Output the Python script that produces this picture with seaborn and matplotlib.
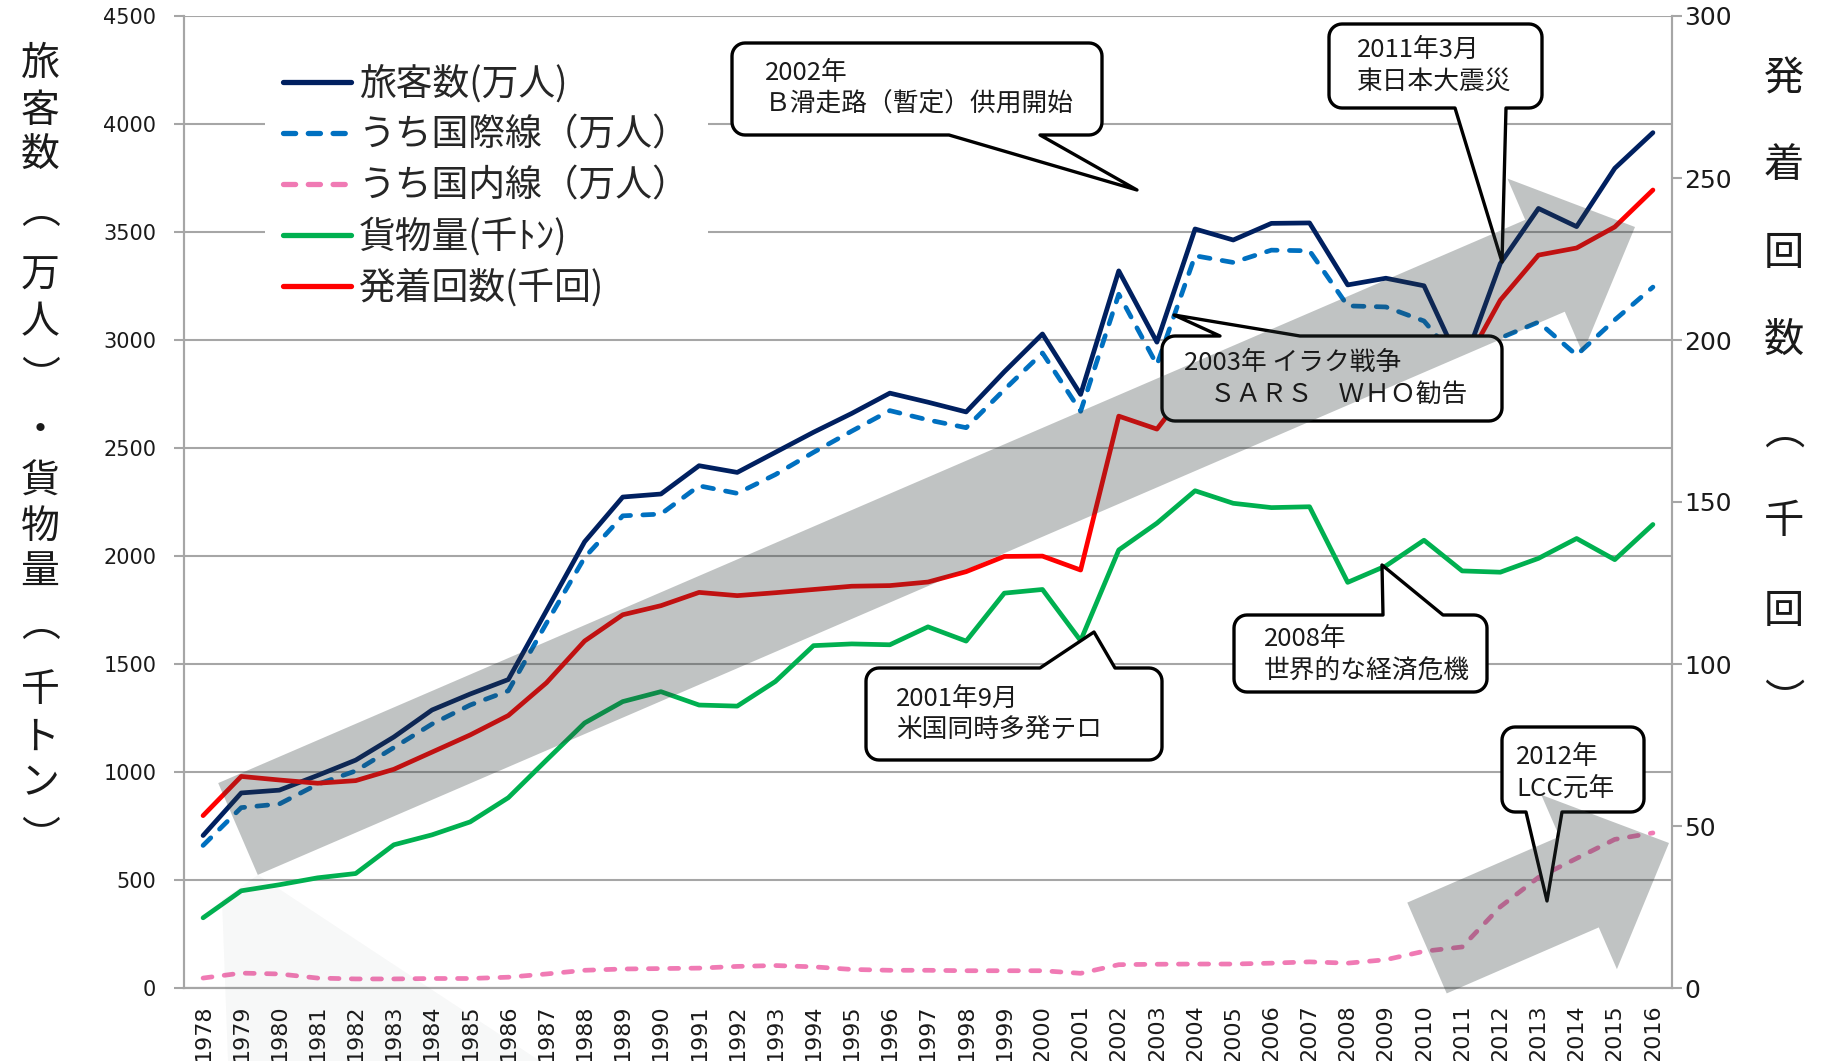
import numpy as np
import pandas as pd
import matplotlib
matplotlib.use("Agg")
import matplotlib.pyplot as plt
import seaborn as sns
from matplotlib.patches import Polygon
from matplotlib.lines import Line2D
from matplotlib import font_manager

# ---- data ----
years = list(range(1978, 2017))
passengers = [706, 903, 916, 984, 1055, 1162, 1287, 1361, 1428, 1747,
              2066, 2273, 2287, 2418, 2387, 2480, 2573, 2660, 2754, 2712,
              2667, 2853, 3028, 2748, 3320, 2990, 3514, 3463, 3540, 3542,
              3255, 3286, 3251, 2870, 3354, 3609, 3525, 3795, 3960]
international = [660, 835, 852, 943, 1005, 1113, 1222, 1310, 1376, 1689,
                 1993, 2186, 2194, 2325, 2290, 2377, 2480, 2578, 2673, 2630,
                 2594, 2770, 2940, 2670, 3212, 2885, 3390, 3359, 3416, 3413,
                 3158, 3153, 3088, 2880, 3009, 3083, 2930, 3093, 3245]
domestic = [46, 69, 65, 46, 42, 42, 44, 44, 50, 65,
            82, 88, 90, 92, 100, 104, 98, 86, 82, 82,
            80, 80, 80, 68, 108, 110, 111, 111, 115, 121,
            115, 131, 170, 190, 376, 512, 600, 688, 718]
cargo = [325, 450, 478, 510, 530, 663, 709, 769, 881, 1055,
         1227, 1326, 1372, 1310, 1305, 1419, 1585, 1593, 1589, 1672,
         1606, 1828, 1845, 1608, 2028, 2152, 2302, 2244, 2224, 2228,
         1878, 1954, 2073, 1931, 1925, 1989, 2081, 1983, 2146]
movements = [53.2, 65.3, 64.2, 63.2, 64.0, 67.5, 72.8, 78.1, 84.1, 94.2,
             107.1, 115.2, 118.0, 122.1, 121.1, 122.0, 123.0, 124.0, 124.2, 125.3,
             128.5, 133.2, 133.3, 129.0, 176.5, 172.5, 187.8, 187.1, 194.5, 194.0,
             194.5, 186.3, 191.2, 191.0, 212.3, 226.2, 228.4, 234.9, 246.3]

labels = ["旅客数(万人)", "うち国際線（万人）", "うち国内線（万人）", "貨物量(千ﾄﾝ)", "発着回数(千回)"]
colors = ["#002060", "#0070c0", "#f07ab4", "#00b050", "#ff0000"]

callouts = [
    ("2002年\nＢ滑走路（暫定）供用開始", (732, 43, 1102, 135), "bottom", (949, 1040), (1137, 190), (765, 73)),
    ("2011年3月\n東日本大震災", (1329, 24, 1542, 108), "bottom", (1455, 1506), (1502, 262), (1357, 50)),
    ("2003年 イラク戦争\n　ＳＡＲＳ　ＷＨＯ勧告", (1162, 336, 1502, 421), "top", (1220, 1300), (1174, 315), (1184, 363)),
    ("2001年9月\n米国同時多発テロ", (866, 668, 1162, 760), "top", (1040, 1115), (1094, 632), (896, 699)),
    ("2008年\n世界的な経済危機", (1234, 615, 1487, 692), "top", (1383, 1443), (1382, 565), (1264, 639)),
    ("2012年\nLCC元年", (1502, 727, 1644, 812), "bottom", (1526, 1562), (1547, 901), (1516, 757)),
]

W, H = 1836, 1061

sns.set_theme(style="white")
plt.rcParams["font.family"] = ["Noto Sans CJK JP", "DejaVu Sans"]

fig = plt.figure(figsize=(W / 100, H / 100), dpi=100)
ax = fig.add_axes([184 / W, 1 - 988 / H, (1672 - 184) / W, (988 - 16) / H])
ax2 = ax.twinx()

x = np.arange(len(years))
lw = 3.4
sns.lineplot(x=x, y=passengers, ax=ax, color=colors[0], lw=lw, solid_capstyle="round", zorder=4)
sns.lineplot(x=x, y=international, ax=ax, color=colors[1], lw=lw,
             linestyle=(0, (2.3, 2.6)), dash_capstyle="round", zorder=4)
sns.lineplot(x=x, y=domestic, ax=ax, color=colors[2], lw=lw,
             linestyle=(0, (1.9, 2.6)), dash_capstyle="round", zorder=4)
sns.lineplot(x=x, y=cargo, ax=ax, color=colors[3], lw=lw, solid_capstyle="round", zorder=4)
sns.lineplot(x=x, y=movements, ax=ax2, color=colors[4], lw=lw, solid_capstyle="round", zorder=4)
for a in (ax, ax2):
    if a.get_legend():
        a.get_legend().remove()

grid_c = "#a6a6a6"
ax.set_xlim(-0.5, len(years) - 0.5)
ax.set_ylim(0, 4500)
ax2.set_ylim(0, 300)
ax.set_yticks(range(0, 4501, 500))
ax2.set_yticks(range(0, 301, 50))
ax.yaxis.grid(True, color=grid_c, lw=1.5)
ax.set_axisbelow(True)
ax.set_xlabel("")
ax.set_ylabel("")
ax2.set_ylabel("")

for a in (ax, ax2):
    a.spines["top"].set_visible(False)
    for side in ("left", "right", "bottom"):
        a.spines[side].set_color(grid_c)
        a.spines[side].set_linewidth(1.5)

names = {f.name for f in font_manager.fontManager.ttflist}
if "Liberation Sans Narrow" in names:
    left_font, left_size = "Liberation Sans Narrow", 19
else:
    left_font, left_size = "DejaVu Sans", 15

ax.set_xticks(x)
ax.set_xticklabels([str(y) for y in years], rotation=90, family="DejaVu Sans",
                   fontsize=16, color="#1a1a1a")
ax.set_xticks(np.arange(-0.5, len(years), 1), minor=True)
ax.tick_params(axis="x", which="major", length=0, pad=12)
ax.tick_params(axis="x", which="minor", length=7, width=1.5, color=grid_c, direction="out")
ax.tick_params(axis="y", length=7, width=1.5, color=grid_c, direction="out", pad=13,
               left=True)
for t in ax.get_yticklabels():
    t.set_family(left_font)
    t.set_fontsize(left_size)
    t.set_color("#1a1a1a")
ax2.tick_params(axis="y", length=7, width=1.5, color=grid_c, direction="out", pad=2,
                right=True)
for t in ax2.get_yticklabels():
    t.set_family("DejaVu Sans")
    t.set_fontsize(18)
    t.set_color("#1a1a1a")

# legend
handles = [
    Line2D([], [], color=colors[0], lw=3.8),
    Line2D([], [], color=colors[1], lw=3.8, ls=(0, (2.3, 2.4)), dash_capstyle="round"),
    Line2D([], [], color=colors[2], lw=3.8, ls=(0, (2.3, 2.4)), dash_capstyle="round"),
    Line2D([], [], color=colors[3], lw=3.8),
    Line2D([], [], color=colors[4], lw=3.8),
]
leg = ax2.legend(handles, labels, loc="upper left", bbox_to_anchor=(265 / W, 1 - 46 / H),
                 bbox_transform=fig.transFigure, frameon=True, facecolor="white",
                 edgecolor="none", framealpha=1, fancybox=False, fontsize=26.5,
                 handlelength=1.85, handletextpad=0.2, labelspacing=0.33,
                 borderpad=0.5, borderaxespad=0)
for t in leg.get_texts():
    t.set_color("#262626")


def fp(px, py):
    return (px / W, 1 - py / H)


def bubble(box, side, base, tip, r=13):
    x0, y0, x1, y1 = box
    def arc(cx, cy, a0, a1):
        t = np.radians(np.linspace(a0, a1, 10))
        return [(cx + r * np.cos(v), cy + r * np.sin(v)) for v in t]
    pts = [(x0 + r, y0)]
    if side == "top":
        pts += [(base[0], y0), tip, (base[1], y0)]
    pts += [(x1 - r, y0)] + arc(x1 - r, y0 + r, -90, 0)
    pts += arc(x1 - r, y1 - r, 0, 90)
    if side == "bottom":
        pts += [(base[1], y1), tip, (base[0], y1)]
    pts += arc(x0 + r, y1 - r, 90, 180)
    pts += arc(x0 + r, y0 + r, 180, 270)
    return [fp(*p) for p in pts]


def arrow(tail, tip, w=100, hw=190, hl=98):
    t = np.array(tail, float)
    p = np.array(tip, float)
    u = (p - t) / np.linalg.norm(p - t)
    n = np.array([-u[1], u[0]])
    b = p - u * hl
    pts = [t + n * w / 2, b + n * w / 2, b + n * hw / 2, p,
           b - n * hw / 2, b - n * w / 2, t - n * w / 2]
    return [fp(*q) for q in pts]


for text, box, side, base, tip, tpos in callouts:
    fig.add_artist(Polygon(bubble(box, side, base, tip), closed=True, fc="white",
                           ec="black", lw=2.4, joinstyle="round",
                           transform=fig.transFigure, zorder=5))
    first, second = text.split("\n")
    fig.text(*fp(*tpos), first, fontsize=18.5, color="#1a1a1a",
             ha="left", va="center", zorder=8)
    fig.text(*fp(tpos[0], tpos[1] + 32), second, fontsize=18.5,
             color="#1a1a1a", ha="left", va="center", zorder=8)

# faint reflection under the big arrow tail
fig.add_artist(Polygon([fp(258, 875), fp(222, 900), fp(228, 1061), fp(540, 1061)],
                       closed=True, fc="#2f3a3a", alpha=0.035, ec="none",
                       transform=fig.transFigure, zorder=5.5))
fig.add_artist(Polygon(arrow((238, 829), (1635, 227)), closed=True, fc="#2f3a3a",
                       alpha=0.3, ec="none", transform=fig.transFigure, zorder=6))
fig.add_artist(Polygon(arrow((1427, 948), (1669, 843), w=99), closed=True, fc="#2f3a3a",
                       alpha=0.3, ec="none", transform=fig.transFigure, zorder=6))

# vertical axis titles
left_chars = ["旅", "客", "数", "︵", "万", "人", "︶", "・", "貨", "物", "量", "︵", "千", "ト", "ン", "︶"]
left_y = [64, 111, 156, 212, 276, 322, 378, 431, 482, 527, 572, 625, 690, 738, 783, 838]
for c, yy in zip(left_chars, left_y):
    fig.text(*fp(40, yy), c, fontsize=28, color="#1a1a1a", ha="center", va="center")
right_chars = ["発", "着", "回", "数", "︵", "千", "回", "︶"]
right_y = [79, 165, 253, 340, 432, 521, 611, 702]
for c, yy in zip(right_chars, right_y):
    fig.text(*fp(1784, yy), c, fontsize=29, color="#1a1a1a", ha="center", va="center")

fig.savefig("out.png", dpi=100, facecolor="white")
